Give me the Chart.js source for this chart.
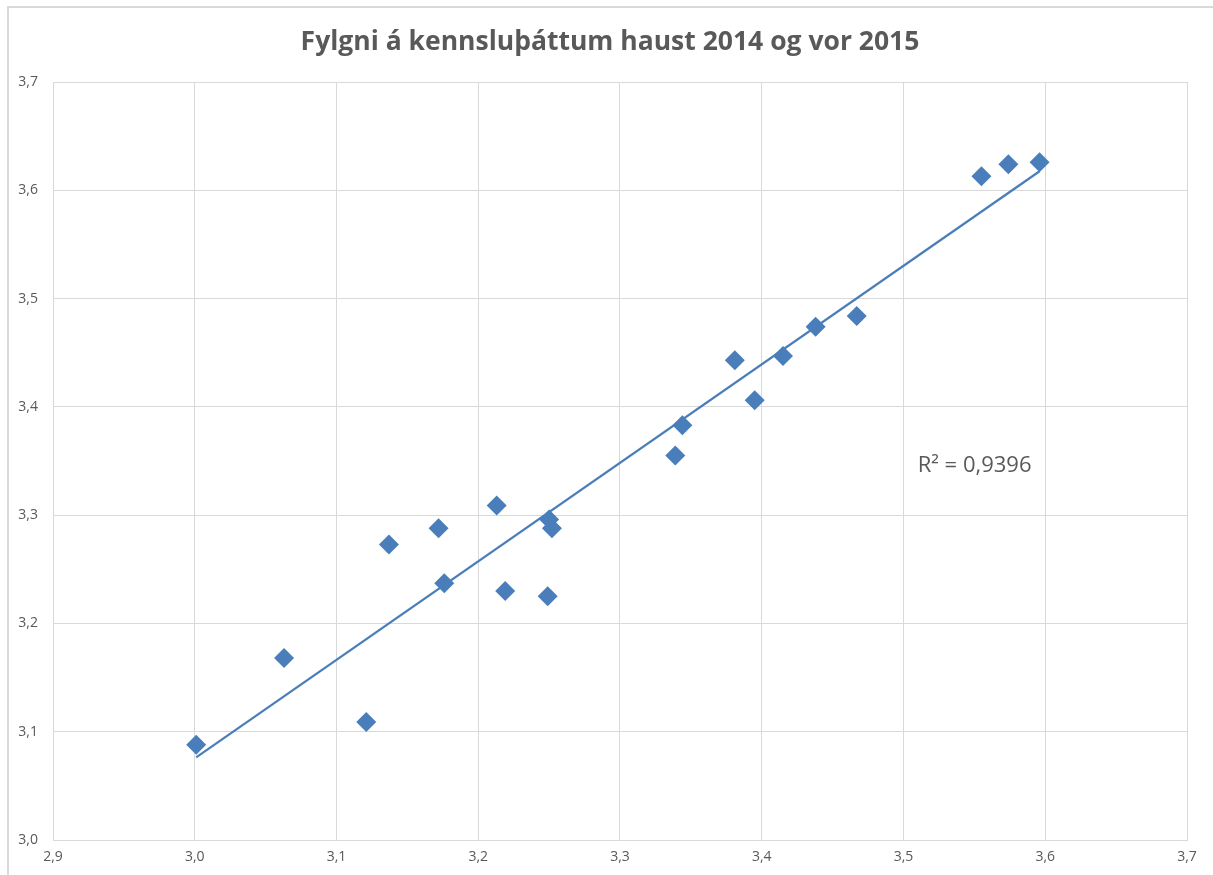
<!DOCTYPE html>
<html>
<head>
<meta charset="utf-8">
<script src="https://cdn.jsdelivr.net/npm/chart.js@4/dist/chart.umd.min.js"></script>
<style>
  body { margin: 0; background: #fff; }
  #frame { position: absolute; left: 7px; top: 6px; width: 1220px; height: 880px;
           border-left: 2px solid #d9d9d9; border-top: 2px solid #d9d9d9; }
  #wrap { position: absolute; left: 0; top: 0; width: 1213px; height: 875px; }
</style>
</head>
<body>
<div id="frame"></div>
<div id="wrap"><canvas id="chart"></canvas></div>
<script>
// kennsluþættir: haust 2014 (x) vs vor 2015 (y)
const xValues = [3.001, 3.063, 3.121, 3.137, 3.172, 3.176, 3.213, 3.219, 3.249, 3.250, 3.252,
                 3.339, 3.344, 3.381, 3.395, 3.415, 3.438, 3.467, 3.555, 3.574, 3.596];
const yValues = [3.088, 3.168, 3.109, 3.273, 3.288, 3.237, 3.309, 3.230, 3.225, 3.296, 3.288,
                 3.355, 3.383, 3.443, 3.406, 3.447, 3.474, 3.484, 3.613, 3.624, 3.626];
const xTickLabels = ['2,9', '3,0', '3,1', '3,2', '3,3', '3,4', '3,5', '3,6', '3,7'];
const yTickLabels = ['3,0', '3,1', '3,2', '3,3', '3,4', '3,5', '3,6', '3,7'];
const titleText = 'Fylgni á kennsluþáttum haust 2014 og vor 2015';
const r2Label = 'R² = 0,9396';

const blue = '#4A7EBB';
const grey = '#595959';
const fontFam = '"Open Sans", "Noto Sans", sans-serif';

// linear trendline (least squares) over the data range
let n = xValues.length, sx = 0, sy = 0, sxx = 0, sxy = 0;
for (let i = 0; i < n; i++) {
  sx += xValues[i]; sy += yValues[i];
  sxx += xValues[i] * xValues[i]; sxy += xValues[i] * yValues[i];
}
const slope = (n * sxy - sx * sy) / (n * sxx - sx * sx);
const icpt = (sy - slope * sx) / n;
const xMin = Math.min(...xValues), xMax = Math.max(...xValues);
const trend = [{x: xMin, y: icpt + slope * xMin}, {x: xMax, y: icpt + slope * xMax}];

let points = [];
for (let i = 0; i < n; i++) points.push({x: xValues[i], y: yValues[i]});

// title (drawn by hand so it can sit a bit right of centre like the original)
// and the R² label next to the trendline
const textPlugin = {
  id: 'texts',
  afterDraw(chart) {
    const ctx = chart.ctx;
    ctx.save();
    ctx.fillStyle = grey;
    ctx.textBaseline = 'middle';
    ctx.textAlign = 'center';
    ctx.font = 'bold 26.5px ' + fontFam;
    ctx.fillText(titleText, 610, 42);

    const x = chart.scales.x.getPixelForValue(3.51);
    const y = chart.scales.y.getPixelForValue(3.346);
    ctx.font = '22px ' + fontFam;
    ctx.textAlign = 'left';
    ctx.fillText(r2Label, x, y);
    ctx.restore();
  }
};

new Chart(document.getElementById('chart'), {
  type: 'scatter',
  data: {
    datasets: [
      {
        data: points,
        pointStyle: 'rectRot',
        pointRadius: 10,
        pointHoverRadius: 10,
        pointBorderWidth: 0,
        backgroundColor: blue,
        borderColor: blue,
        order: 1
      },
      {
        type: 'line',
        data: trend,
        borderColor: blue,
        borderWidth: 2.25,
        pointRadius: 0,
        fill: false,
        order: 2
      }
    ]
  },
  options: {
    responsive: true,
    maintainAspectRatio: false,
    animation: false,
    layout: { padding: { left: 0, right: 26, bottom: 0, top: 82 } },
    plugins: {
      legend: { display: false },
      tooltip: { enabled: false },
      title: { display: false }
    },
    scales: {
      x: {
        type: 'linear',
        min: 2.9, max: 3.7,
        grid: { color: '#d9d9d9', drawTicks: false },
        border: { color: '#d9d9d9' },
        ticks: {
          stepSize: 0.1, padding: 9, color: grey,
          font: { family: fontFam, size: 14 },
          callback: (v, i) => xTickLabels[i]
        },
        afterFit: (s) => { s.height = 35; }
      },
      y: {
        min: 3.0, max: 3.7,
        grid: { color: '#d9d9d9', drawTicks: false },
        border: { color: '#d9d9d9' },
        ticks: {
          stepSize: 0.1, padding: 15, color: grey,
          font: { family: fontFam, size: 14 },
          callback: (v, i) => yTickLabels[i]
        },
        afterFit: (s) => { s.width = 53; }
      }
    }
  },
  plugins: [textPlugin]
});
</script>
</body>
</html>
